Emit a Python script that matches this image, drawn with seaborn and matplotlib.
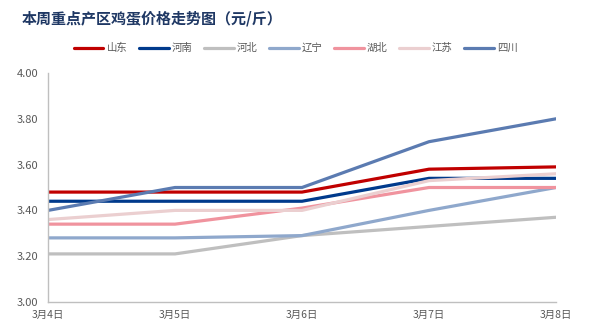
import matplotlib
matplotlib.use("Agg")
import matplotlib.pyplot as plt
import seaborn as sns
import pandas as pd

dates = ["3月4日", "3月5日", "3月6日", "3月7日", "3月8日"]
series_names = ["山东", "河南", "河北", "辽宁", "湖北", "江苏", "四川"]
shandong = [3.48, 3.48, 3.48, 3.58, 3.59]
henan = [3.44, 3.44, 3.44, 3.54, 3.54]
hebei = [3.21, 3.21, 3.29, 3.33, 3.37]
liaoning = [3.28, 3.28, 3.29, 3.40, 3.50]
hubei = [3.34, 3.34, 3.41, 3.50, 3.50]
jiangsu = [3.36, 3.40, 3.40, 3.53, 3.56]
sichuan = [3.40, 3.50, 3.50, 3.70, 3.80]
yticks = [3.00, 3.20, 3.40, 3.60, 3.80, 4.00]

values = [shandong, henan, hebei, liaoning, hubei, jiangsu, sichuan]
colors = ["#C00000", "#003A8C", "#BFBFBF", "#8FA8CC", "#F0939E", "#EBCFD0", "#5B7BB1"]

rows = []
for name, vals in zip(series_names, values):
    for i, v in enumerate(vals):
        rows.append({"x": i, "date": dates[i], "value": v, "series": name})
df = pd.DataFrame(rows)

sns.set_theme(style="white")
plt.rcParams['font.family'] = ['Noto Sans CJK SC', 'DejaVu Sans']

fig = plt.figure(figsize=(5.89, 3.34), dpi=100)
ax = fig.add_axes([48/589, 32/334, (556-48)/589, (302-73)/334])

sns.lineplot(data=df, x="x", y="value", hue="series", hue_order=series_names,
             palette=colors, linewidth=2.3, ax=ax, legend=True)

ax.set_xlim(0, 4)
ax.set_ylim(3.0, 4.0)
ax.set_xticks(range(len(dates)))
ax.set_xticklabels(dates, fontsize=7.5, color="#595959")
ax.set_yticks(yticks)
ax.set_yticklabels([f"{v:.2f}" for v in yticks], fontsize=8, color="#595959")
ax.set_xlabel("")
ax.set_ylabel("")
for s in ["top", "right"]:
    ax.spines[s].set_visible(False)
for s in ["left", "bottom"]:
    ax.spines[s].set_color("#BFBFBF")
    ax.spines[s].set_linewidth(1.0)
ax.tick_params(axis="x", direction="out", length=4, color="#BFBFBF", width=1, pad=2)
ax.tick_params(axis="y", direction="out", length=4, color="#BFBFBF", width=1, pad=3)
ax.grid(False)

handles, labels = ax.get_legend_handles_labels()
ax.legend(handles, labels, loc="lower center", bbox_to_anchor=(0.488, 1.045), ncol=7,
          frameon=False, fontsize=7.5, handlelength=2.8, columnspacing=1.15,
          handletextpad=0.3, labelcolor="#595959")

fig.text(22/589, 1 - 19/334, "本周重点产区鸡蛋价格走势图（元/斤）", fontsize=10.8,
         fontweight="bold", color="#1F3864", va="center", ha="left")

fig.savefig("out.png", dpi=100)
